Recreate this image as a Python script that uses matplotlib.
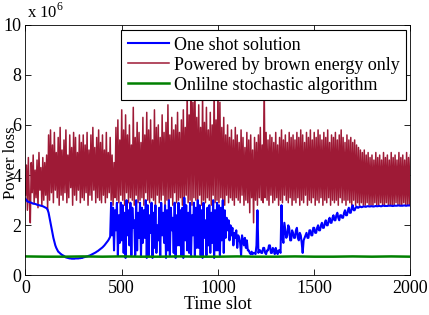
import numpy as np
import matplotlib
matplotlib.use("Agg")
import matplotlib.pyplot as plt

plt.rcParams['font.family'] = ['Liberation Serif', 'DejaVu Serif']
plt.rcParams['mathtext.fontset'] = 'custom'
plt.rcParams['mathtext.rm'] = 'Liberation Serif'

# power loss in units of 1e6
# brown energy only: one value every 5 slots (0..2000)
brown_loss = [
    3.2, 4.4, 2.6, 4.7, 3.0, 2.1, 4.5, 3.3, 4.8, 2.9, 4.2, 3.1, 4.6, 2.7, 4.9, 3.4, 4.3, 2.8, 4.7, 3.0,
    4.5, 3.2, 4.8, 2.6, 5.6, 3.0, 5.8, 3.3, 5.2, 2.9, 5.7, 3.4, 4.9, 3.1, 5.5, 2.8, 5.9, 3.2, 5.0, 3.0,
    5.4, 3.3, 5.8, 2.9, 4.8, 3.1, 5.6, 3.5, 5.1, 2.8, 5.7, 3.2, 5.5, 3.0, 4.9, 3.4, 5.6, 2.9, 5.3, 3.1,
    5.6, 3.0, 5.2, 3.3, 5.7, 2.8, 5.0, 3.2, 5.6, 3.0, 5.9, 3.4, 5.1, 2.9, 5.5, 3.1, 5.8, 3.0, 5.3, 2.9,
    5.6, 3.2, 5.0, 2.9, 5.7, 3.1, 4.9, 3.3, 5.5, 3.0, 4.8, 2.8, 4.5, 3.1, 5.9, 3.0, 6.2, 2.9, 5.4, 3.2,
    6.6, 3.0, 5.8, 2.8, 6.4, 3.3, 5.6, 2.9, 6.0, 3.1, 5.2, 3.0, 6.7, 2.8, 5.5, 3.2, 6.1, 2.9, 5.7, 3.0,
    5.3, 3.1, 6.3, 2.8, 5.6, 3.3, 6.5, 3.0, 5.8, 2.9, 6.2, 3.1, 5.4, 3.0, 6.6, 2.8, 5.9, 3.2, 6.0, 2.9,
    5.5, 3.0, 6.4, 3.2, 5.7, 2.8, 6.1, 3.0, 6.8, 2.9, 5.6, 3.1, 6.3, 2.8, 5.8, 3.3, 6.0, 2.9, 6.5, 3.0,
    5.7, 3.1, 6.2, 2.8, 6.6, 3.0, 5.9, 3.2, 7.4, 2.9, 6.4, 3.0, 8.6, 2.8, 6.9, 3.1, 7.8, 3.0, 6.3, 2.9,
    6.8, 3.2, 5.9, 2.8, 7.2, 3.0, 6.1, 2.9, 6.7, 3.1, 5.8, 3.0, 6.5, 2.8, 6.0, 3.2, 7.5, 2.9, 6.2, 3.0,
    7.6, 2.9, 6.9, 3.1, 5.9, 3.0, 6.3, 2.8, 5.6, 3.2, 6.0, 2.9, 5.5, 3.1, 5.8, 3.0, 5.4, 2.8, 5.9, 3.1,
    5.6, 3.0, 5.3, 2.9, 5.8, 3.2, 5.5, 2.8, 5.1, 3.0, 5.7, 2.9, 5.4, 2.5, 5.6, 3.1, 5.0, 2.1, 5.5, 3.0,
    5.3, 2.8, 5.6, 3.1, 5.9, 3.0, 5.2, 2.9, 7.8, 3.1, 5.7, 3.0, 5.4, 2.8, 5.6, 3.2, 5.5, 2.9, 5.3, 3.0,
    5.7, 3.1, 5.2, 2.8, 5.5, 3.0, 5.8, 2.9, 5.4, 3.2, 5.6, 3.0, 5.3, 2.9, 5.7, 3.1, 5.5, 2.8, 5.6, 3.0,
    5.4, 2.9, 5.7, 3.1, 5.5, 2.8, 5.8, 3.0, 5.6, 2.9, 5.3, 3.2, 5.7, 2.8, 5.5, 3.0, 5.8, 2.9, 5.4, 3.1,
    5.7, 2.8, 5.5, 3.0, 5.8, 2.9, 5.6, 3.1, 5.4, 2.8, 5.7, 3.0, 5.5, 2.9, 5.8, 3.1, 5.3, 2.8, 5.6, 3.0,
    5.5, 2.9, 5.7, 3.0, 5.4, 2.8, 5.6, 3.1, 5.8, 2.9, 5.5, 3.0, 5.3, 2.8, 5.6, 3.0, 5.4, 2.9, 5.5, 2.8,
    5.3, 3.0, 5.4, 2.8, 5.2, 2.9, 5.1, 2.8, 5.0, 2.9, 4.9, 2.8, 5.0, 2.8, 4.8, 2.9, 4.9, 2.8, 4.7, 2.8,
    4.8, 2.8, 4.6, 2.9, 4.9, 2.8, 4.7, 2.8, 4.8, 2.9, 4.6, 2.8, 4.9, 2.8, 4.7, 2.9, 4.8, 2.8, 4.6, 2.8,
    4.9, 2.8, 4.7, 2.8, 4.8, 2.9, 4.6, 2.8, 4.9, 2.8, 4.7, 2.8, 4.8, 2.9, 4.6, 2.8, 4.9, 2.8, 4.7, 2.8,
    4.8,
]

# one shot solution: one value every 5 slots (0..2000)
oneshot_loss = [
    3.05, 3.0, 2.95, 2.94, 2.92, 2.91, 2.9, 2.88, 2.86, 2.86, 2.85, 2.84, 2.82, 2.81, 2.8, 2.79, 2.78, 2.77, 2.76, 2.74,
    2.72, 2.7, 2.68, 2.62, 2.5, 2.3, 2.1, 1.9, 1.7, 1.5, 1.35, 1.2, 1.1, 1.02, 0.95, 0.92, 0.88, 0.85, 0.82, 0.8,
    0.78, 0.75, 0.72, 0.71, 0.7, 0.69, 0.68, 0.68, 0.67, 0.67, 0.67, 0.67, 0.68, 0.68, 0.68, 0.68, 0.69, 0.69, 0.7, 0.7,
    0.72, 0.73, 0.74, 0.75, 0.76, 0.77, 0.79, 0.8, 0.82, 0.84, 0.86, 0.88, 0.9, 0.92, 0.95, 0.97, 1.0, 1.03, 1.06, 1.09,
    1.12, 1.16, 1.2, 1.25, 1.3, 1.35, 1.4, 1.47, 1.55, 2.9, 1.6, 2.7, 1.0, 2.6, 1.8, 2.9, 0.8, 2.4, 1.3, 2.9,
    1.4, 2.8, 0.9, 2.5, 0.7, 3.0, 1.6, 2.6, 1.2, 2.9, 0.8, 2.7, 1.9, 2.2, 0.8, 3.0, 1.0, 2.5, 1.5, 2.9,
    0.75, 2.7, 1.3, 2.6, 1.5, 3.0, 0.7, 2.8, 0.8, 2.4, 1.7, 2.9, 0.7, 2.5, 1.1, 2.8, 0.9, 2.0, 1.4, 2.7,
    0.75, 2.9, 1.6, 2.5, 1.3, 2.8, 0.7, 2.6, 1.0, 3.0, 0.8, 2.7, 1.8, 2.3, 0.9, 2.9, 0.7, 2.4, 1.2, 2.9,
    1.2, 2.6, 0.8, 2.7, 0.7, 3.1, 1.4, 2.8, 1.0, 2.5, 0.9, 2.9, 0.75, 2.4, 1.6, 2.9, 0.8, 2.7, 1.1, 3.0,
    1.1, 2.8, 0.8, 2.6, 0.7, 2.9, 1.5, 2.2, 0.8, 2.7, 1.2, 2.8, 0.9, 2.5, 1.3, 3.0, 0.7, 2.6, 1.0, 2.9,
    1.0, 2.8, 0.8, 2.7, 1.4, 3.0, 0.9, 2.6, 1.5, 2.3, 1.8, 2.2, 1.4, 2.0, 1.6, 1.9, 1.2, 1.7, 1.5, 1.8,
    1.1, 1.6, 1.5, 1.3, 0.8, 1.6, 1.4, 1.2, 1.5, 1.1, 1.4, 1.0, 1.0, 0.9, 0.85, 0.95, 0.85, 0.9, 0.9, 0.85,
    1.2, 2.6, 0.9, 1.0, 1.0, 0.9, 0.9, 1.1, 1.1, 0.9, 0.85, 1.0, 1.0, 1.2, 1.2, 0.9, 0.9, 1.1, 1.0, 0.85,
    1.1, 0.95, 0.85, 1.0, 1.0, 0.9, 2.8, 1.5, 1.3, 2.1, 1.8, 1.5, 1.6, 2.0, 1.9, 1.4, 1.4, 1.8, 1.7, 1.5,
    1.5, 1.8, 1.9, 1.5, 1.4, 1.7, 1.6, 1.3, 0.9, 1.4, 1.5, 1.6, 1.7, 1.5, 1.5, 1.8, 1.8, 1.6, 1.6, 1.9,
    1.9, 1.7, 1.7, 1.9, 2.0, 1.8, 1.8, 2.0, 2.1, 1.9, 1.9, 2.1, 2.2, 2.0, 2.0, 2.2, 2.3, 2.1, 2.1, 2.3,
    2.4, 2.2, 2.2, 2.4, 2.5, 2.3, 2.2, 2.4, 2.4, 2.3, 2.3, 2.5, 2.6, 2.4, 2.4, 2.6, 2.7, 2.5, 2.5, 2.7,
    2.8, 2.6, 2.6, 2.7, 2.75, 2.7, 2.7, 2.74, 2.75, 2.72, 2.73, 2.75, 2.75, 2.74, 2.74, 2.76, 2.76, 2.75, 2.75, 2.76,
    2.76, 2.75, 2.75, 2.76, 2.77, 2.76, 2.76, 2.77, 2.77, 2.76, 2.76, 2.78, 2.78, 2.77, 2.77, 2.77, 2.77, 2.78, 2.78, 2.78,
    2.78, 2.77, 2.77, 2.78, 2.78, 2.78, 2.78, 2.79, 2.79, 2.78, 2.78, 2.78, 2.78, 2.79, 2.79, 2.78, 2.78, 2.79, 2.79, 2.79,
    2.79,
]

# online stochastic algorithm: one value every 100 slots (0..2000)
online_loss = [0.76, 0.75, 0.75, 0.76, 0.75, 0.76, 0.75, 0.75, 0.76, 0.75, 0.75,
               0.76, 0.75, 0.75, 0.76, 0.75, 0.75, 0.76, 0.75, 0.76, 0.75]

brown_slots = np.arange(0, 2001, 5)
oneshot_slots = np.arange(0, 2001, 5)
online_slots = np.arange(0, 2001, 100)

labels = ['One shot solution', 'Powered by brown energy only',
          'Onlilne stochastic algorithm']

fs = 13

fig = plt.figure(figsize=(4.29, 3.15), dpi=100)
ax = fig.add_axes([0.0594, 0.1254, 0.8974, 0.7968])

l_red, = ax.plot(brown_slots, brown_loss, color='#9E1A36', lw=1.1)
l_blue, = ax.plot(oneshot_slots, oneshot_loss, color='#0000FF', lw=1.5)
l_green, = ax.plot(online_slots, online_loss, color='#008000', lw=1.8)

ax.set_xlim(0, 2000)
ax.set_ylim(0, 10)
ax.set_xticks([0, 500, 1000, 1500, 2000])
ax.set_yticks([0, 2, 4, 6, 8, 10])
ax.tick_params(direction='in', top=True, right=True, length=4, width=0.6,
               labelsize=fs, pad=3)
for s in ax.spines.values():
    s.set_linewidth(0.6)

ax.set_xlabel('Time slot', fontsize=fs)
ax.xaxis.set_label_coords(0.5, -0.083)
ax.set_ylabel('Power loss', fontsize=12)
ax.yaxis.set_label_coords(-0.018, 0.448)
ax.text(0.005, 1.01, r'x 10$^{\mathregular{6}}$', transform=ax.transAxes,
        fontsize=12, ha='left', va='bottom')

leg = ax.legend([l_blue, l_red, l_green], labels,
                loc='upper right', bbox_to_anchor=(0.9875, 0.977), borderaxespad=0,
                fancybox=False, framealpha=1, edgecolor='black', fontsize=fs,
                handlelength=2.3, labelspacing=0.17, handletextpad=0.25,
                borderpad=0.35)
leg.get_frame().set_linewidth(0.8)

fig.savefig('out.png', dpi=100)
